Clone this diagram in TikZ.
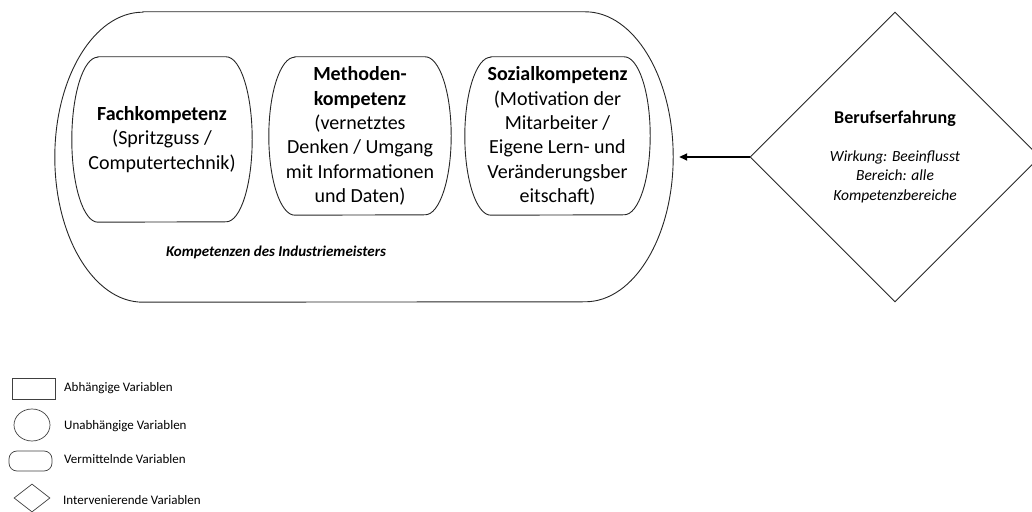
\documentclass[tikz,border=0pt]{standalone}
\usepackage{fontspec}
\setmainfont{Carlito}
\usetikzlibrary{shapes.geometric,arrows.meta}

% Draws a capsule outline (flat top/bottom, half-elliptic sides) around a node
% #1 style, #2 node name, #3 horizontal radius, #4 vertical radius
\newcommand\pilloutline[4]{%
  \draw[#1] ([xshift=#3]#2.north west) -- ([xshift=-#3]#2.north east)
    arc[start angle=90, end angle=-90, x radius=#3, y radius=#4]
    -- ([xshift=#3]#2.south west)
    arc[start angle=270, end angle=90, x radius=#3, y radius=#4]
    -- cycle;}

\tikzset{
  holder/.style={inner sep=0pt, align=center},
  outline/.style={draw=black!85, line width=0.9pt},
  boxtext/.style={holder, font=\fontsize{20}{24.4}\selectfont},
  legendshape/.style={draw=black!75, line width=0.7pt, inner sep=0pt},
  legendtext/.style={anchor=west, inner sep=0pt, font=\fontsize{13}{15}\selectfont},
  influence/.style={-{Triangle[length=8pt,width=7pt]}, line width=1.8pt, shorten >=6pt}
}

\begin{document}
\begin{tikzpicture}[x=1pt,y=1pt]
\useasboundingbox (0,0) rectangle (1032,511);

% competence area of the master craftsman
\node[holder, minimum width=618pt, minimum height=290pt] (komp) at (364,354) {};
\pilloutline{outline}{komp}{88pt}{145pt}

\node[boxtext, minimum width=180pt, minimum height=165pt] (fach) at (162,371.5)
  {\textbf{Fachkompetenz}\\(Spritzguss /\\Computertechnik)};
\pilloutline{outline}{fach}{26pt}{82.5pt}

\node[boxtext, minimum width=182pt, minimum height=158pt] (methode) at (360,375)
  {\textbf{Methoden-}\\\textbf{kompetenz}\\(vernetztes\\Denken / Umgang\\mit Informationen\\und Daten)};
\pilloutline{outline}{methode}{26pt}{79pt}

\node[boxtext, minimum width=185pt, minimum height=158pt] (sozial) at (557.5,375)
  {\textbf{Sozialkompetenz}\\(Motivation der\\Mitarbeiter /\\Eigene Lern- und\\Veränderungsber\\eitschaft)};
\pilloutline{outline}{sozial}{26pt}{79pt}

\node[holder, font=\bfseries\itshape\fontsize{15}{18}\selectfont] (kompcap) at (276,259)
  {Kompetenzen des Industriemeisters};

% intervening variable
\node[diamond, outline, minimum width=290pt, minimum height=290pt, inner sep=0pt,
      align=center, font=\itshape\fontsize{15.5}{19.5}\selectfont] (beruf) at (895,354)
  {{\upshape\bfseries\fontsize{18}{22}\selectfont Berufserfahrung}\\[18pt]
   Wirkung: Beeinflusst\\Bereich: alle\\Kompetenzbereiche};

\draw[influence] (beruf.west) -- (komp.east);

% legend
\node[legendshape, rectangle, minimum width=43pt, minimum height=21pt] (lgabh) at (33.5,122.5) {};
\node[legendtext] (lgabhtxt) at (64,123) {Abhängige Variablen};

\node[legendshape, ellipse, minimum width=36pt, minimum height=32pt] (lgunabh) at (32,86) {};
\node[legendtext] (lgunabhtxt) at (64,85) {Unabhängige Variablen};

\node[legendshape, rectangle, rounded corners=8pt, minimum width=43pt, minimum height=20pt] (lgverm) at (30.5,50) {};
\node[legendtext] (lgvermtxt) at (64,52) {Vermittelnde Variablen};

\node[legendshape, diamond, minimum width=36pt, minimum height=28pt] (lginter) at (32,13) {};
\node[legendtext] (lgintertxt) at (63,11) {Intervenierende Variablen};
\end{tikzpicture}
\end{document}
